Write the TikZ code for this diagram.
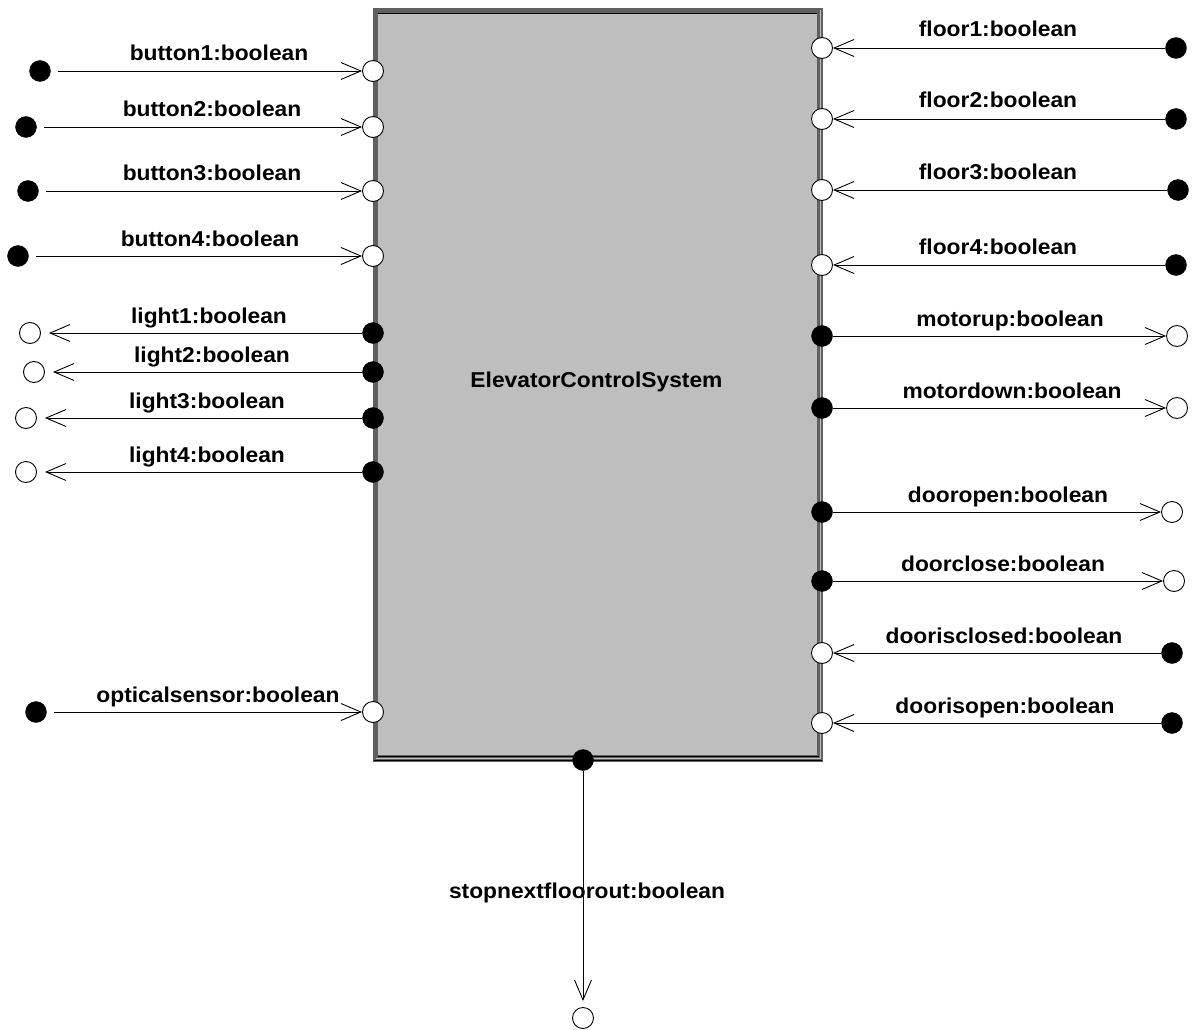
\documentclass[tikz,border=0pt]{standalone}
\usepackage{fontspec}
\setmainfont{Liberation Sans}[FakeStretch=1.06]
\usetikzlibrary{arrows.meta}
\definecolor{boxfill}{RGB}{190,190,190}
\definecolor{framedark}{RGB}{96,96,96}

\tikzset{
  sig/.style={draw=black,line width=0.9pt},
  flow/.style={sig,-{Straight Barb[length=20pt,width=17pt]}},
  openport/.style={circle,draw=black,fill=white,line width=0.9pt,minimum size=21pt,inner sep=0pt},
  fullport/.style={circle,draw=black,fill=black,minimum size=21pt,inner sep=0pt},
  lbl/.style={anchor=base,inner sep=0pt,font=\fontsize{21.5}{24}\selectfont\bfseries},
}

\begin{document}
\begin{tikzpicture}[x=1pt,y=-1pt]
\useasboundingbox (0,0) rectangle (1192,1030);

% component body with bevelled frame
\fill[framedark] (373,8) rectangle (823,762);
\fill[boxfill] (378,13) rectangle (817,755);
\draw[black,line width=1pt] (378,13.5) -- (817,13.5);
\draw[black,line width=1pt] (378,756) -- (819,756);
\draw[white!75!black,line width=1pt] (376,758) -- (821,758);
\draw[black,line width=1pt] (374,760.5) -- (822,760.5);
\draw[white!75!black,line width=1pt] (820,10) -- (820,758);
\node[lbl] (ecs) at (596.5,387) {ElevatorControlSystem};

% inputs entering on the left
\foreach \n/\y/\fx/\lx in {button1/71/40/219, button2/127/26/212, button3/191/28/212,
    button4/256/18/210, opticalsensor/712/36/218} {
  \node[fullport] (\n src) at (\fx,\y) {};
  \node[openport] (\n port) at (373,\y) {};
  \draw[flow,shorten <=7pt] (\n src) -- (\n port);
  \node[lbl] (\n lbl) at (\lx,\y-10) {\n:boolean};
}

% outputs leaving on the left
\foreach \n/\y/\fx/\lx in {light1/333/30/209, light2/372/34/212, light3/418/26/207,
    light4/472/26/207} {
  \node[fullport] (\n port) at (373,\y) {};
  \node[openport] (\n dst) at (\fx,\y) {};
  \draw[flow,shorten >=8pt] (\n port) -- (\n dst);
  \node[lbl] (\n lbl) at (\lx,\y-10) {\n:boolean};
}

% inputs entering on the right
\foreach \n/\y/\fx/\lx/\off in {floor1/48/1176/998/11, floor2/119/1176/998/11,
    floor3/190/1178/998/11, floor4/265/1176/998/11,
    doorisclosed/653/1172/1004/10, doorisopen/723/1172/1005/10} {
  \node[fullport] (\n src) at (\fx,\y) {};
  \node[openport] (\n port) at (822,\y) {};
  \draw[flow] (\n src) -- (\n port);
  \node[lbl] (\n lbl) at (\lx,\y-\off) {\n:boolean};
}

% outputs leaving on the right
\foreach \n/\y/\fx/\lx in {motorup/336/1177/1010, motordown/408/1177/1012,
    dooropen/512/1172/1008, doorclose/581/1174/1003} {
  \node[fullport] (\n port) at (822,\y) {};
  \node[openport] (\n dst) at (\fx,\y) {};
  \draw[flow] (\n port) -- (\n dst);
  \node[lbl] (\n lbl) at (\lx,\y-10) {\n:boolean};
}

% output leaving at the bottom
\node[fullport] (stopport) at (583,760) {};
\node[openport] (stopdst) at (583,1018) {};
\draw[flow,shorten >=6pt] (stopport) -- (stopdst);
\node[lbl] (stoplbl) at (587,898) {stopnextfloorout:boolean};
\end{tikzpicture}
\end{document}
